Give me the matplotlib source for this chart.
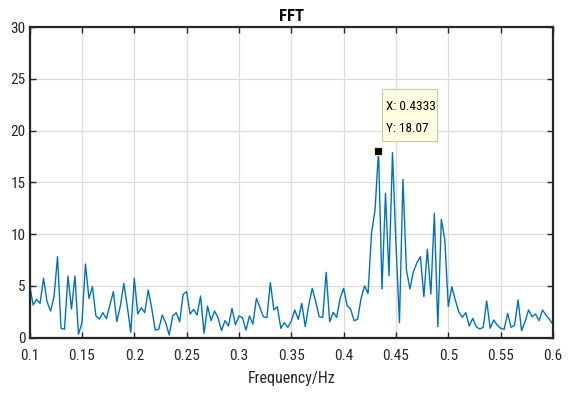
import numpy as np
import matplotlib
matplotlib.use("Agg")
import matplotlib.pyplot as plt
from matplotlib import font_manager
from matplotlib.patches import Rectangle

# ---- data ----
k_start, k_end, n_fft = 30, 180, 300
freq = np.arange(k_start, k_end + 1) / n_fft
amp = [
    5.07, 3.14, 3.69, 3.30, 5.72, 3.46, 2.56, 3.95, 7.81, 0.89,
    0.79, 5.94, 2.75, 5.94, 0.31, 1.43, 7.10, 3.78, 4.91, 2.08,
    1.79, 2.40, 1.82, 3.14, 4.43, 1.53, 3.04, 5.23, 2.98, 0.50,
    5.72, 2.27, 2.88, 2.40, 4.59, 2.82, 0.72, 0.79, 2.17, 1.43,
    0.24, 2.08, 2.40, 1.53, 4.17, 4.43, 2.27, 2.72, 2.17, 4.01,
    0.40, 3.04, 1.63, 2.56, 1.92, 0.66, 1.63, 1.11, 2.82, 1.21,
    2.08, 1.92, 0.72, 2.08, 1.30, 3.78, 2.91, 2.01, 1.92, 5.30,
    2.66, 2.98, 0.89, 1.43, 0.98, 1.59, 2.66, 1.75, 3.30, 1.05,
    3.14, 4.75, 3.46, 2.01, 1.95, 6.30, 1.53, 2.43, 1.95, 3.80,
    4.75, 3.08, 2.75, 1.63, 1.75, 3.78, 4.98, 4.27, 10.13, 12.32,
    18.07, 4.69, 13.93, 5.97, 17.86, 9.00, 1.43, 15.28, 6.52, 4.69,
    6.36, 7.23, 7.81, 3.94, 8.52, 4.20, 12.00, 1.05, 11.42, 9.42,
    2.98, 4.91, 3.62, 2.50, 1.95, 2.40, 1.11, 1.85, 1.05, 0.82,
    0.98, 3.53, 0.89, 1.69, 1.21, 0.89, 0.79, 2.33, 0.98, 1.21,
    3.62, 0.66, 1.53, 2.66, 2.01, 2.27, 1.63, 2.66, 2.17, 1.75,
    1.27,
]
tip_x, tip_y = 0.4333, 18.07
xticks = [0.1, 0.15, 0.2, 0.25, 0.3, 0.35, 0.4, 0.45, 0.5, 0.55, 0.6]
xtick_labels = ["0.1", "0.15", "0.2", "0.25", "0.3", "0.35", "0.4", "0.45", "0.5", "0.55", "0.6"]
yticks = [0, 5, 10, 15, 20, 25, 30]

names = {f.name for f in font_manager.fontManager.ttflist}
fam = "DejaVu Sans"
for cand in ["Liberation Sans Narrow", "Arial Narrow", "Roboto Condensed", "Archivo Narrow",
             "PT Sans Narrow", "Asap Condensed", "Liberation Sans"]:
    if cand in names:
        fam = cand
        break
plt.rcParams["font.family"] = [fam, "DejaVu Sans"]

fig = plt.figure(figsize=(5.75, 3.96), dpi=100)
ax = fig.add_axes([0.0515, 0.1477, 0.9102, 0.784])
ax.plot(freq, amp, color="#0072BD", lw=1.0)
ax.plot([tip_x], [tip_y], marker="s", ms=5.5, color="black", mec="#E8E8B0", mew=0.8, zorder=5)

ax.set_xlim(0.1, 0.6)
ax.set_ylim(0, 30)
ax.set_xticks(xticks)
ax.set_xticklabels(xtick_labels)
ax.set_yticks(yticks)
ax.grid(True, color="#DCDCDC", lw=0.9)
ax.set_axisbelow(True)
ax.tick_params(direction="in", length=4, width=1.0, labelsize=11, colors="#262626",
               top=True, right=True)
ax.tick_params(axis="x", pad=8)
ax.tick_params(axis="y", pad=3)
for s in ax.spines.values():
    s.set_color("#262626")
    s.set_linewidth(1.6)
ax.set_title("FFT", fontsize=12, fontweight="bold", color="black", pad=4)
ax.set_xlabel("Frequency/Hz", fontsize=11.5, color="#262626", labelpad=6)

# data tip box
ax.add_patch(Rectangle((0.4368, 19.0), 0.0525, 5.0, facecolor="#FFFFE1", edgecolor="#C8C8A8",
                       lw=0.8, zorder=6))
ax.text(0.4400, 22.3, f"X: {tip_x}", fontsize=9.5, ha="left", va="center", color="black", zorder=7)
ax.text(0.4400, 20.2, f"Y: {tip_y}", fontsize=9.5, ha="left", va="center", color="black", zorder=7)

fig.savefig("out.png", dpi=100, facecolor="white")
